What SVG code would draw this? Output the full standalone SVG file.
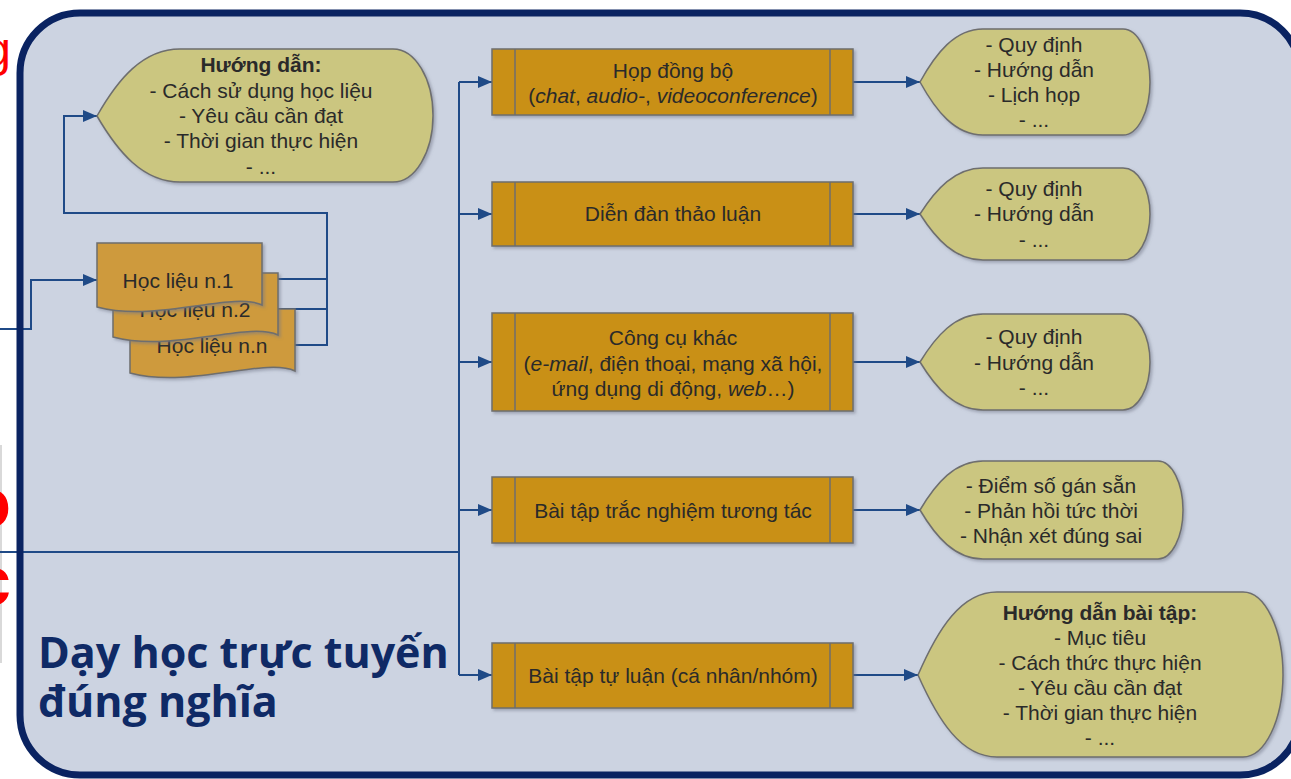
<svg xmlns="http://www.w3.org/2000/svg" width="1291" height="779" viewBox="0 0 1291 779">
<style>
.t{font-family:"Liberation Sans",Arial,sans-serif;font-size:21px;fill:#2a2a2a;text-anchor:middle}
.b{font-weight:bold}
.i{font-style:italic}
.box{fill:#c99016;stroke:#6e6e6e;stroke-width:1.5}
.sep{stroke:#6e6e6e;stroke-width:1.5}
.disp{fill:#cbc680;stroke:#6e6e6e;stroke-width:1.5}
.doc{fill:#ce9a3c;stroke:#6e6e6e;stroke-width:1.5}
.c{fill:none;stroke:#1f4a87;stroke-width:2}
.ca{fill:none;stroke:#1f4a87;stroke-width:2;marker-end:url(#arr)}
.title{font-family:"Open Sans","Noto Sans",sans-serif;font-weight:bold;font-size:43px;fill:#0f2a66}
.red{font-family:"Liberation Sans",Arial,sans-serif;fill:#ff0000;text-anchor:end}
</style>
<defs>
<marker id="arr" markerUnits="userSpaceOnUse" markerWidth="14" markerHeight="12" refX="14" refY="6" orient="auto">
<path d="M0,0 L14,6 L0,12 Z" fill="#1f4a87"/>
</marker>
<filter id="sh" x="-10%" y="-10%" width="130%" height="130%">
<feDropShadow dx="2" dy="2" stdDeviation="1.5" flood-color="#6f7686" flood-opacity="0.5"/>
</filter>
<path id="docshape" d="M0,0 H165 V62 C135,48 60,80 0,64 Z"/>
</defs>

<rect x="0" y="0" width="1291" height="779" fill="#ffffff"/>
<g id="outside">
<rect x="0" y="445" width="2" height="218" fill="#d9d9d9"/>
<text class="red" x="11" y="66" font-size="48">g</text>
<text class="red b" x="11" y="527" font-size="70" font-weight="bold">o</text>
<text class="red b" x="11" y="605" font-size="70" font-weight="bold">c</text>
</g>

<g id="panel">
<rect x="20" y="13" width="1280" height="762" rx="60" ry="60" fill="#ccd3e1"/>
</g>

<g id="connectors">
<path class="c" d="M0,552 H459"/>
<path class="c" d="M459,82 V675"/>
<path class="ca" d="M459,82 H492"/>
<path class="ca" d="M459,214 H492"/>
<path class="ca" d="M459,362 H492"/>
<path class="ca" d="M459,510 H492"/>
<path class="ca" d="M459,675 H492"/>
<path class="ca" d="M853,82 H920"/>
<path class="ca" d="M853,214 H920"/>
<path class="ca" d="M853,362 H920"/>
<path class="ca" d="M853,510 H920"/>
<path class="ca" d="M853,675 H918"/>
<path class="ca" d="M0,329 H31 V280 H97"/>
<path class="c" d="M262,279 H327"/>
<path class="c" d="M278,309 H327"/>
<path class="ca" d="M295,345 H327 V213 H64 V116 H97"/>
</g>

<rect x="20" y="13" width="1280" height="762" rx="60" ry="60" fill="none" stroke="#0a2361" stroke-width="7"/>

<g id="huongdan">
<path class="disp" filter="url(#sh)" d="M97,116 C118,79 143,49 180,49 H393 A40,66.5 0 0 1 433,115.5 A40,66.5 0 0 1 393,182 H180 C143,182 118,152 97,116 Z"/>
<text class="t b" x="261" y="72">Hướng dẫn:</text>
<text class="t" x="261" y="98">- Cách sử dụng học liệu</text>
<text class="t" x="261" y="123">- Yêu cầu cần đạt</text>
<text class="t" x="261" y="148">- Thời gian thực hiện</text>
<text class="t" x="261" y="174">- ...</text>
</g>

<g id="hoclieu-n">
<use href="#docshape" class="doc" filter="url(#sh)" transform="translate(130,309)"/>
<text class="t" x="212" y="353">Học liệu n.n</text>
</g>
<g id="hoclieu-2">
<use href="#docshape" class="doc" filter="url(#sh)" transform="translate(113,273)"/>
<text class="t" x="195" y="317">Học liệu n.2</text>
</g>
<g id="hoclieu-1">
<use href="#docshape" class="doc" filter="url(#sh)" transform="translate(97,243)"/>
<text class="t" x="178" y="288">Học liệu n.1</text>
</g>

<g id="box-hop">
<rect class="box" filter="url(#sh)" x="492" y="49" width="361" height="66"/>
<line class="sep" x1="515" y1="49" x2="515" y2="115"/>
<line class="sep" x1="830" y1="49" x2="830" y2="115"/>
<text class="t" x="673" y="78">Họp đồng bộ</text>
<text class="t" x="673" y="103">(<tspan class="i">chat</tspan>, <tspan class="i">audio-</tspan>, <tspan class="i">videoconference</tspan>)</text>
</g>

<g id="box-diendan">
<rect class="box" filter="url(#sh)" x="492" y="182" width="361" height="64"/>
<line class="sep" x1="515" y1="182" x2="515" y2="246"/>
<line class="sep" x1="830" y1="182" x2="830" y2="246"/>
<text class="t" x="673" y="221">Diễn đàn thảo luận</text>
</g>

<g id="box-congcu">
<rect class="box" filter="url(#sh)" x="492" y="313" width="361" height="98"/>
<line class="sep" x1="515" y1="313" x2="515" y2="411"/>
<line class="sep" x1="830" y1="313" x2="830" y2="411"/>
<text class="t" x="673" y="345">Công cụ khác</text>
<text class="t" x="673" y="371">(<tspan class="i">e-mail</tspan>, điện thoại, mạng xã hội,</text>
<text class="t" x="673" y="396">ứng dụng di động, <tspan class="i">web</tspan>…)</text>
</g>

<g id="box-tracnghiem">
<rect class="box" filter="url(#sh)" x="492" y="477" width="361" height="66"/>
<line class="sep" x1="515" y1="477" x2="515" y2="543"/>
<line class="sep" x1="830" y1="477" x2="830" y2="543"/>
<text class="t" x="673" y="518">Bài tập trắc nghiệm tương tác</text>
</g>

<g id="box-tuluan">
<rect class="box" filter="url(#sh)" x="492" y="643" width="361" height="65"/>
<line class="sep" x1="515" y1="643" x2="515" y2="708"/>
<line class="sep" x1="830" y1="643" x2="830" y2="708"/>
<text class="t" x="673" y="683">Bài tập tự luận (cá nhân/nhóm)</text>
</g>

<g id="disp-hop">
<path class="disp" filter="url(#sh)" d="M920,82 C936,53 955,29 983,29 H1123 A27,53 0 0 1 1150,82 A27,53 0 0 1 1123,135 H983 C955,135 936,111 920,82 Z"/>
<text class="t" x="1034" y="52">- Quy định</text>
<text class="t" x="1034" y="77">- Hướng dẫn</text>
<text class="t" x="1034" y="102">- Lịch họp</text>
<text class="t" x="1034" y="127">- ...</text>
</g>

<g id="disp-diendan">
<path class="disp" filter="url(#sh)" d="M920,214 C936,189 955,168 983,168 H1123 A27,46 0 0 1 1150,214 A27,46 0 0 1 1123,260 H983 C955,260 936,239 920,214 Z"/>
<text class="t" x="1034" y="196">- Quy định</text>
<text class="t" x="1034" y="221">- Hướng dẫn</text>
<text class="t" x="1034" y="247">- ...</text>
</g>

<g id="disp-congcu">
<path class="disp" filter="url(#sh)" d="M920,362 C936,336 955,314 983,314 H1123 A27,48 0 0 1 1150,362 A27,48 0 0 1 1123,410 H983 C955,410 936,388 920,362 Z"/>
<text class="t" x="1034" y="344">- Quy định</text>
<text class="t" x="1034" y="370">- Hướng dẫn</text>
<text class="t" x="1034" y="395">- ...</text>
</g>

<g id="disp-tracnghiem">
<path class="disp" filter="url(#sh)" d="M920,510 C936,483 955,461 983,461 H1158 A25,49 0 0 1 1183,510 A25,49 0 0 1 1158,559 H983 C955,559 936,537 920,510 Z"/>
<text class="t" x="1051" y="493">- Điểm số gán sẵn</text>
<text class="t" x="1051" y="518">- Phản hồi tức thời</text>
<text class="t" x="1051" y="543">- Nhận xét đúng sai</text>
</g>

<g id="disp-tuluan">
<path class="disp" filter="url(#sh)" d="M918,675 C938,629 961,592 997,592 H1243 A40,83 0 0 1 1283,675 A40,83 0 0 1 1243,757 H997 C961,757 938,720 918,675 Z"/>
<text class="t b" x="1100" y="620">Hướng dẫn bài tập:</text>
<text class="t" x="1100" y="645">- Mục tiêu</text>
<text class="t" x="1100" y="670">- Cách thức thực hiện</text>
<text class="t" x="1100" y="695">- Yêu cầu cần đạt</text>
<text class="t" x="1100" y="720">- Thời gian thực hiện</text>
<text class="t" x="1100" y="745">- ...</text>
</g>

<g id="title">
<text class="title" x="38" y="668">Dạy học trực tuyến</text>
<text class="title" x="38" y="717">đúng nghĩa</text>
</g>
</svg>
